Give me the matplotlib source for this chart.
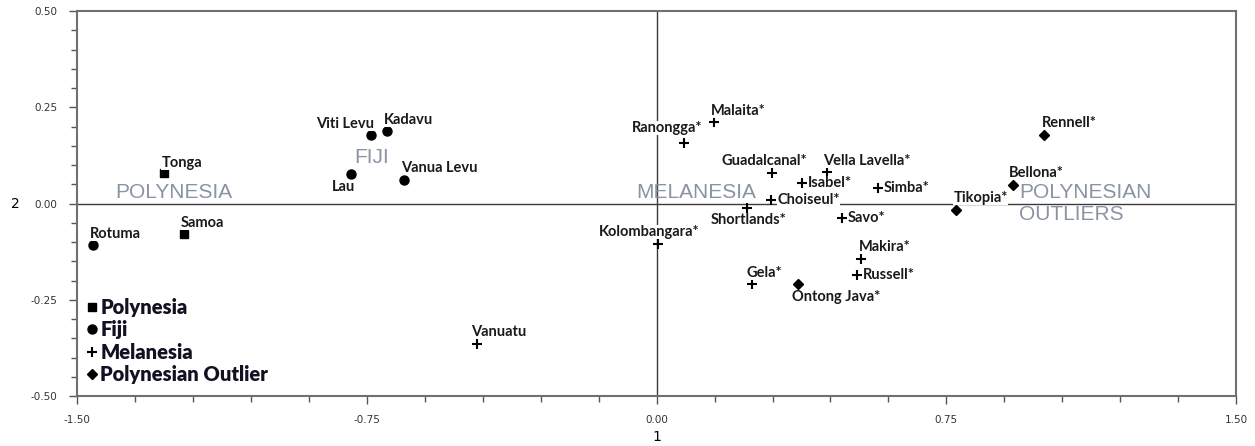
import matplotlib.pyplot as plt
from matplotlib.ticker import MultipleLocator, FormatStrFormatter

# Data: dimension 1 (x) and dimension 2 (y) scores per island group
poly_names = ["Tonga", "Samoa"]
poly_x = [-1.274, -1.224]
poly_y = [0.078, -0.078]

fiji_names = ["Rotuma", "Viti Levu", "Kadavu", "Lau", "Vanua Levu"]
fiji_x = [-1.459, -0.738, -0.698, -0.790, -0.653]
fiji_y = [-0.109, 0.178, 0.189, 0.077, 0.061]

mela_names = ["Vanuatu", "Kolombangara*", "Gela*", "Ranongga*", "Malaita*",
              "Guadalcanal*", "Vella Lavella*", "Isabel*", "Choiseul*",
              "Shortlands*", "Savo*", "Simba*", "Makira*", "Russell*"]
mela_x = [-0.466, 0.003, 0.247, 0.071, 0.148, 0.299, 0.441, 0.377, 0.297,
          0.235, 0.480, 0.573, 0.528, 0.519]
mela_y = [-0.365, -0.106, -0.210, 0.156, 0.213, 0.078, 0.081, 0.052, 0.010,
          -0.011, -0.037, 0.041, -0.145, -0.185]

out_names = ["Ontong Java*", "Tikopia*", "Bellona*", "Rennell*"]
out_x = [0.366, 0.776, 0.922, 1.003]
out_y = [-0.210, -0.017, 0.048, 0.178]

group_labels = ["POLYNESIA", "FIJI", "MELANESIA", "POLYNESIAN\nOUTLIERS"]
legend_labels = ["Polynesia", "Fiji", "Melanesia", "Polynesian Outlier"]

# label placement: (ha, dx px, dy px)
place = {
    "Tonga": ("left", -3, 10), "Samoa": ("left", -3, 11),
    "Rotuma": ("left", -3, 11), "Viti Levu": ("right", 3, 11),
    "Kadavu": ("left", -3, 11), "Lau": ("center", -8, -13),
    "Vanua Levu": ("left", -3, 12), "Vanuatu": ("left", -5, 12),
    "Kolombangara*": ("center", -9, 12), "Gela*": ("left", -6, 11),
    "Ranongga*": ("right", 18, 15), "Malaita*": ("left", -3, 11),
    "Guadalcanal*": ("right", 35, 12), "Vella Lavella*": ("left", -4, 11),
    "Isabel*": ("left", 6, 0), "Choiseul*": ("left", 6, 0),
    "Shortlands*": ("center", 1, -12), "Savo*": ("left", 6, 0),
    "Simba*": ("left", 6, 0), "Makira*": ("left", -2, 12),
    "Russell*": ("left", 6, 0), "Ontong Java*": ("left", -6, -13),
    "Tikopia*": ("left", -3, 12), "Bellona*": ("left", -4, 12),
    "Rennell*": ("left", -2, 12),
}

fig = plt.figure(figsize=(12.55, 4.46), dpi=100)
ax = fig.add_axes([0.0614, 0.1121, 0.9236, 0.8632])

ax.axhline(0, color='#3a3a3a', lw=1, zorder=1)
ax.axvline(0, color='#3a3a3a', lw=1, zorder=1)

h1, = ax.plot(poly_x, poly_y, 's', color='black', ms=5.5, zorder=3)
h2, = ax.plot(fiji_x, fiji_y, 'o', color='black', ms=6.5, zorder=3)
h3, = ax.plot(mela_x, mela_y, '+', color='black', ms=6.5, mew=1.5, zorder=3)
h4, = ax.plot(out_x, out_y, 'D', color='black', ms=5, zorder=3)

for names, xs, ys in [(poly_names, poly_x, poly_y), (fiji_names, fiji_x, fiji_y),
                      (mela_names, mela_x, mela_y), (out_names, out_x, out_y)]:
    for n, x, y in zip(names, xs, ys):
        ha, dx, dy = place[n]
        ax.annotate(n, (x, y), xytext=(dx, dy), textcoords='offset pixels',
                    ha=ha, va='center', fontsize=10.5, fontweight='bold',
                    family='Lato', color='#1a1a1a', zorder=4,
                    bbox=dict(boxstyle='square,pad=0.0', fc='white', ec='none'))

# group names
gstyle = dict(fontsize=15, color='#8a93a4', family='Liberation Sans', zorder=2)
ax.text(-1.402, 0.029, group_labels[0], ha='left', va='center', **gstyle)
ax.text(-0.783, 0.119, group_labels[1], ha='left', va='center', **gstyle)
ax.text(-0.052, 0.029, group_labels[2], ha='left', va='center', **gstyle)
ax.text(0.939, 0.029, group_labels[3].split("\n")[0], ha='left', va='center', **gstyle)
ax.text(0.939, -0.028, group_labels[3].split("\n")[1], ha='left', va='center', **gstyle)

leg = ax.legend([h1, h2, h3, h4], legend_labels, loc='lower left',
                bbox_to_anchor=(0.0, 0.0), frameon=False, handlelength=0.3,
                handletextpad=0.25, labelspacing=0.16, borderaxespad=0.2,
                prop={'family': 'Lato', 'weight': 'heavy', 'size': 14.5})
for t in leg.get_texts():
    t.set_color('#111122')

ax.set_xlim(-1.5, 1.5)
ax.set_ylim(-0.5, 0.5)
ax.xaxis.set_major_locator(MultipleLocator(0.75))
ax.xaxis.set_minor_locator(MultipleLocator(0.15))
ax.yaxis.set_major_locator(MultipleLocator(0.25))
ax.yaxis.set_minor_locator(MultipleLocator(0.05))
ax.xaxis.set_major_formatter(FormatStrFormatter('%.2f'))
ax.yaxis.set_major_formatter(FormatStrFormatter('%.2f'))
ax.tick_params(which='both', direction='out', color='#555555', width=1)
ax.tick_params(which='major', length=6, labelsize=7.5, labelcolor='#333333', pad=8)
ax.tick_params(which='minor', length=4)
for s in ax.spines.values():
    s.set_color('#707070')
    s.set_linewidth(1.5)

ax.set_xlabel('1', fontsize=10, labelpad=3)
ax.set_ylabel('2', fontsize=10, rotation=0, labelpad=11, va='center')

fig.savefig('out.png', dpi=100)
